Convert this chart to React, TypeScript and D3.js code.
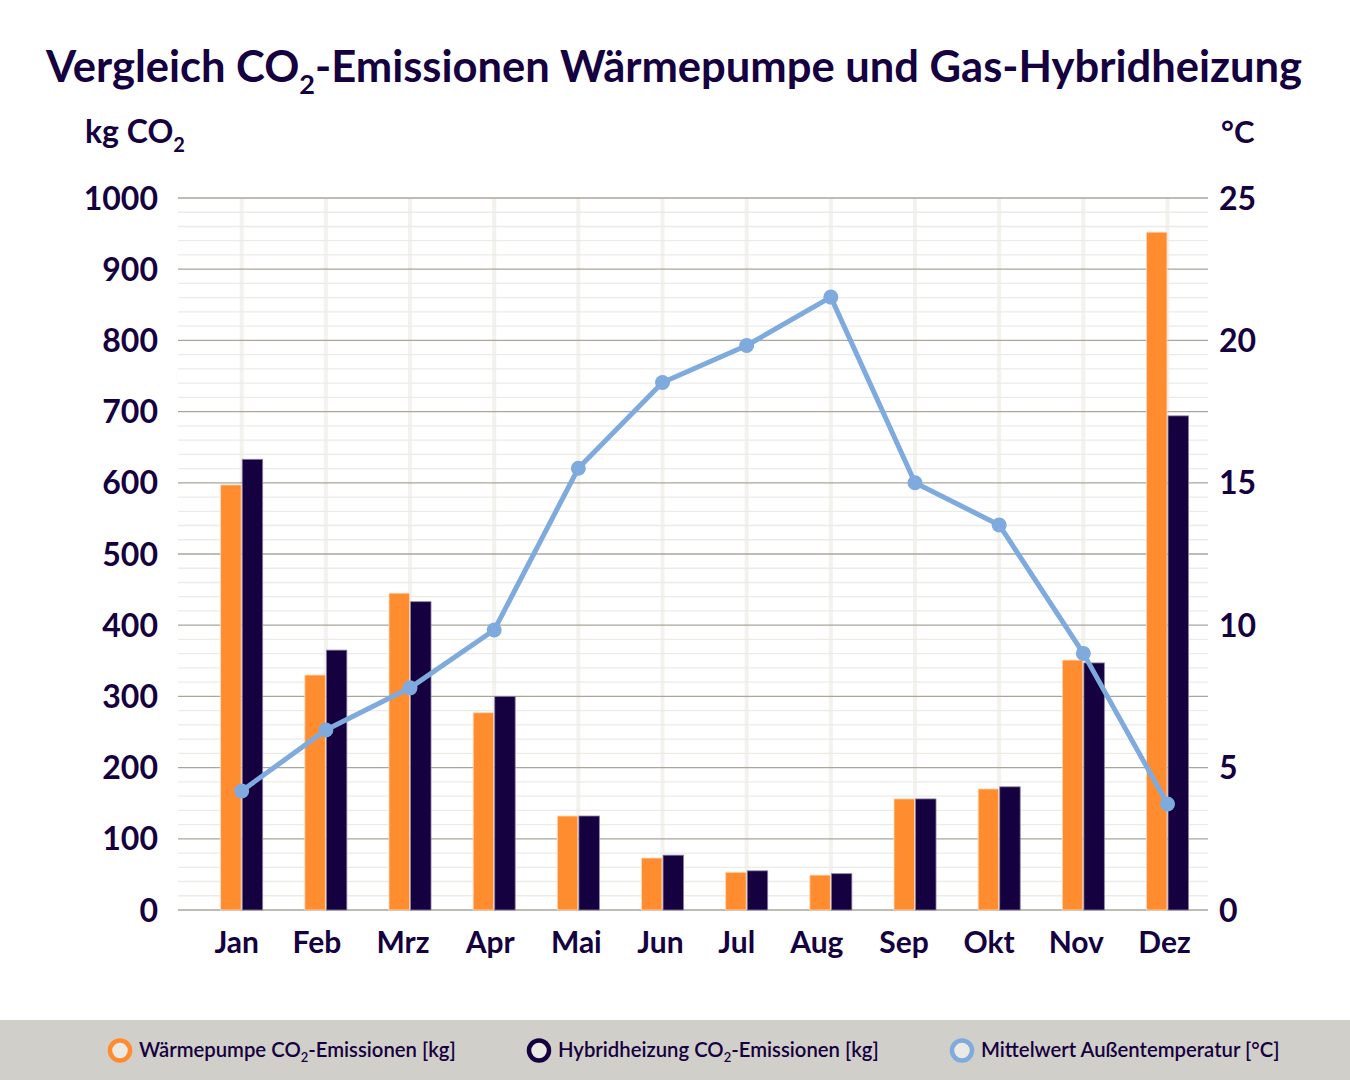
import React from 'react';
import * as d3 from 'd3';

const months = ['Jan', 'Feb', 'Mrz', 'Apr', 'Mai', 'Jun', 'Jul', 'Aug', 'Sep', 'Okt', 'Nov', 'Dez'];
const waermepumpe = [597, 330, 445, 277, 132, 73, 53, 49, 156, 170, 351, 952];
const hybrid = [633, 365, 433, 300, 132, 77, 55, 51, 156, 173, 347, 694];
const temperatur = [4.18, 6.32, 7.8, 9.83, 15.51, 18.52, 19.82, 21.52, 15.0, 13.52, 9.01, 3.72];
const leftTicks = [0, 100, 200, 300, 400, 500, 600, 700, 800, 900, 1000];
const rightTicks = [0, 5, 10, 15, 20, 25];

// the month labels in the original sit a little off the bar centres
const xLabelShift = [-5, -9, -7, -4, -2, -2, -10, -14, -11, -10, -7, -3];

const NAVY = '#150040';
const ORANGE = '#ff8c2e';
const BLUE = '#7faade';
const FONT = 'Lato, "Noto Sans", sans-serif';

const plotLeft = 178;
const plotRight = 1208;
const plotTop = 198;
const plotBottom = 910;

const App: React.FC = () => {
  const x = d3.scaleBand<string>().domain(months).range([199.6, 1209.6]).padding(0);
  const sub = d3.scaleBand<string>().domain(['wp', 'hy']).range([-21, 21]).paddingInner(0.05);
  const yLeft = d3.scaleLinear().domain([0, 1000]).range([plotBottom, plotTop]);
  const yRight = d3.scaleLinear().domain([0, 25]).range([plotBottom, plotTop]);
  const minorTicks = d3.range(0, 1001, 20).filter(v => v % 100 !== 0);
  const cx = (m: string) => (x(m) as number) + x.bandwidth() / 2;

  const line = d3.line<number>()
    .x((_, i) => cx(months[i]))
    .y(d => yRight(d));

  const legend = [
    { color: ORANGE, x: 120, label: <>Wärmepumpe CO<tspan fontSize="13" dy="5">2</tspan><tspan dy="-5">-Emissionen [kg]</tspan></> },
    { color: NAVY, x: 539, label: <>Hybridheizung CO<tspan fontSize="13" dy="5">2</tspan><tspan dy="-5">-Emissionen [kg]</tspan></> },
    { color: BLUE, x: 962, label: <>Mittelwert Außentemperatur [°C]</> },
  ];

  return (
    <svg width={1350} height={1080} style={{ position: 'absolute', left: 0, top: 0, background: '#fff' }} fontFamily={FONT}>
      <rect x={0} y={0} width={1350} height={1080} fill="#fff" />
      <text x={674} y={82} textAnchor="middle" fontSize={43.5} fontWeight={700} fill={NAVY}>
        Vergleich CO<tspan fontSize={27} dy={12}>2</tspan><tspan dy={-12}>-Emissionen Wärmepumpe und Gas-Hybridheizung</tspan>
      </text>
      <text x={85} y={143} fontSize={32} fontWeight={700} fill={NAVY}>
        kg CO<tspan fontSize={20} dy={9}>2</tspan>
      </text>
      <text x={1221} y={143} fontSize={31} fontWeight={700} fill={NAVY}>°C</text>

      {/* vertical category lines */}
      {months.map(m => (
        <line key={'v' + m} x1={cx(m)} x2={cx(m)} y1={plotTop} y2={plotBottom} stroke="#f4f2ef" strokeWidth={4} />
      ))}
      {/* minor grid */}
      {minorTicks.map(t => (
        <line key={'mi' + t} x1={plotLeft} x2={plotRight} y1={yLeft(t)} y2={yLeft(t)} stroke="#ecebe8" strokeWidth={1.3} />
      ))}
      {/* major grid */}
      {leftTicks.map(t => (
        <line key={'ma' + t} x1={plotLeft} x2={plotRight} y1={yLeft(t)} y2={yLeft(t)} stroke="#aaa69c" strokeWidth={1.3} />
      ))}

      {/* bars */}
      {months.map((m, i) => (
        <g key={'b' + m}>
          <rect x={cx(m) + (sub('wp') as number)} y={yLeft(waermepumpe[i])} width={sub.bandwidth()}
            height={plotBottom - yLeft(waermepumpe[i])} fill={ORANGE} stroke="#ffd9b8" strokeWidth={0.8} />
          <rect x={cx(m) + (sub('hy') as number)} y={yLeft(hybrid[i])} width={sub.bandwidth()}
            height={plotBottom - yLeft(hybrid[i])} fill={NAVY} stroke="#8a7fa3" strokeWidth={0.8} />
        </g>
      ))}

      {/* temperature line */}
      <path d={line(temperatur) as string} fill="none" stroke={BLUE} strokeWidth={5} strokeLinejoin="round" />
      {temperatur.map((t, i) => (
        <circle key={'c' + i} cx={cx(months[i])} cy={yRight(t)} r={7.5} fill={BLUE} />
      ))}

      {/* left axis labels */}
      {leftTicks.map(t => (
        <text key={'l' + t} x={158} y={yLeft(t)} dy="0.36em" textAnchor="end" fontSize={32} fontWeight={700} fill={NAVY}>{t}</text>
      ))}
      {/* right axis labels */}
      {rightTicks.map(t => (
        <text key={'r' + t} x={1219} y={yRight(t)} dy="0.36em" textAnchor="start" fontSize={32} fontWeight={700} fill={NAVY}>{t}</text>
      ))}
      {/* x labels */}
      {months.map((m, i) => (
        <text key={'x' + m} x={cx(m) + xLabelShift[i]} y={953} textAnchor="middle" fontSize={30} fontWeight={700} fill={NAVY}>{m}</text>
      ))}

      {/* legend */}
      <rect x={0} y={1020} width={1350} height={60} fill="#d1cfc9" />
      {legend.map(l => (
        <g key={l.x}>
          <circle cx={l.x} cy={1050.5} r={10} fill="#ebe9e4" stroke={l.color} strokeWidth={4.5} />
          <text x={l.x + 19} y={1057} fontSize={20.3} fontWeight={600} fill={NAVY}>{l.label}</text>
        </g>
      ))}
    </svg>
  );
};

export default App;
